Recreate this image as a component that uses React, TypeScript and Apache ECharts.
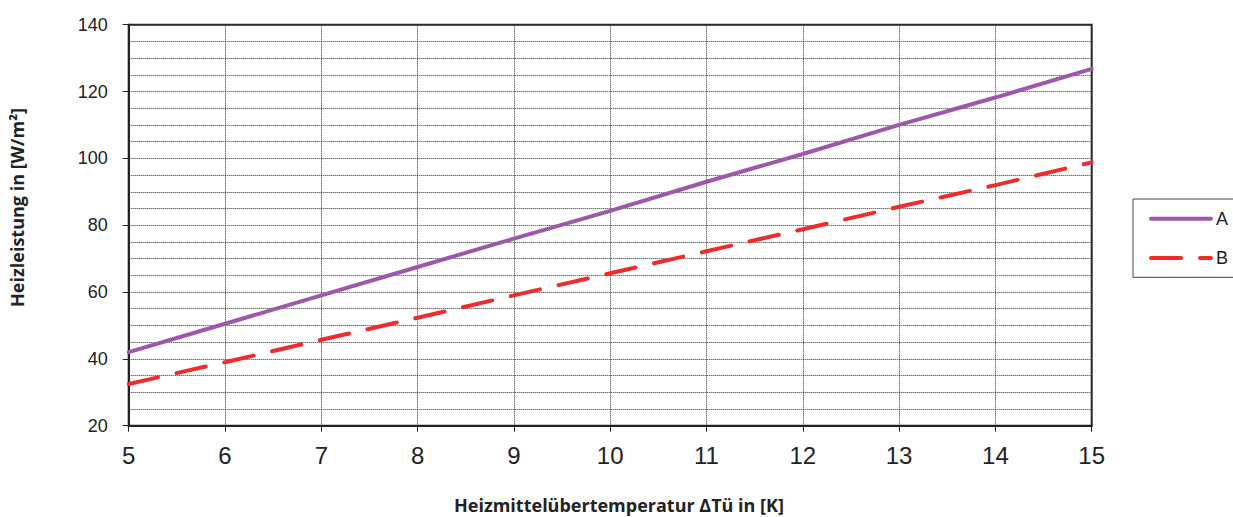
import React, { useEffect, useRef } from "react";
import * as echarts from "echarts";

const xValues = [5, 6, 7, 8, 9, 10, 11, 12, 13, 14, 15];
const seriesA = [42, 50.5, 59, 67.5, 76, 84.3, 93, 101.3, 110, 118.2, 126.8];
const seriesB = [32.5, 39, 45.7, 52.3, 59, 65.6, 72.2, 78.8, 85.5, 92, 98.8];
const seriesNames = ["A", "B"];
const yTitle = "Heizleistung in [W/m²]";
const xTitle = "Heizmittelübertemperatur ΔTü in [K]";

export default function App() {
  const ref = useRef<HTMLDivElement>(null);
  useEffect(() => {
    if (!ref.current) return;
    const chart = echarts.init(ref.current, null, { renderer: "svg" });
    const gridLine = { show: true, lineStyle: { color: "#333", width: 1, type: [1, 1] as any } };
    chart.setOption({
      animation: false,
      backgroundColor: "#fff",
      grid: {
        left: 128.7,
        right: 141.3,
        top: 24.7,
        bottom: 91.3,
        show: true,
        borderColor: "#222",
        borderWidth: 2,
        backgroundColor: "transparent",
      },
      xAxis: {
        type: "value",
        min: 5,
        max: 15,
        interval: 1,
        axisLine: { show: true, lineStyle: { color: "#222", width: 2 } },
        axisTick: { show: true, length: 6, lineStyle: { color: "#222", width: 1 } },
        axisLabel: { color: "#222", fontSize: 24, margin: 18, fontFamily: "Liberation Sans" },
        splitLine: gridLine,
      },
      yAxis: {
        type: "value",
        min: 20,
        max: 140,
        interval: 20,
        axisLine: { show: true, lineStyle: { color: "#222", width: 2 } },
        axisTick: { show: true, length: 6, lineStyle: { color: "#222", width: 1 } },
        axisLabel: { color: "#222", fontSize: 18, margin: 21, fontFamily: "Liberation Sans" },
        splitLine: gridLine,
        minorTick: { show: false, splitNumber: 4 },
        minorSplitLine: { show: true, lineStyle: { color: "#333", width: 1, type: [1, 1] as any } },
      },
      legend: {
        orient: "vertical",
        left: 1133,
        top: 199,
        padding: [8.7, 40, 8.3, 16],
        itemWidth: 60,
        itemHeight: 22,
        itemGap: 17.3,
        borderColor: "#444",
        borderWidth: 1,
        itemStyle: { opacity: 0 },
        lineStyle: { width: 4, cap: "round" },
        textStyle: { color: "#222", fontSize: 18, lineHeight: 22, fontFamily: "Liberation Sans" },
        data: seriesNames,
      },
      series: [
        {
          name: seriesNames[0],
          type: "line",
          data: xValues.map((x, i) => [x, seriesA[i]]),
          showSymbol: false,
          symbol: "none",
          lineStyle: { color: "#9E58A9", width: 4, cap: "round" },
          itemStyle: { color: "#9E58A9" },
        },
        {
          name: seriesNames[1],
          type: "line",
          data: xValues.map((x, i) => [x, seriesB[i]]),
          showSymbol: false,
          symbol: "none",
          lineStyle: { color: "#EE2C2C", width: 4, type: [30, 19] as any, cap: "round" },
          itemStyle: { color: "#EE2C2C" },
        },
      ],
      graphic: [
        {
          type: "text",
          x: 17,
          y: 207.5,
          rotation: Math.PI / 2,
          style: {
            text: yTitle,
            fill: "#222",
            font: "bold 18px 'Open Sans'",
            align: "center",
            verticalAlign: "middle",
          },
        },
        {
          type: "text",
          x: 619,
          y: 504.5,
          style: {
            text: xTitle,
            fill: "#222",
            font: "bold 18px 'Open Sans'",
            align: "center",
            verticalAlign: "middle",
          },
        },
      ],
    });
    return () => chart.dispose();
  }, []);
  return (
    <div
      ref={ref}
      style={{ position: "fixed", left: 0, top: 0, width: 1233, height: 517 }}
    />
  );
}
